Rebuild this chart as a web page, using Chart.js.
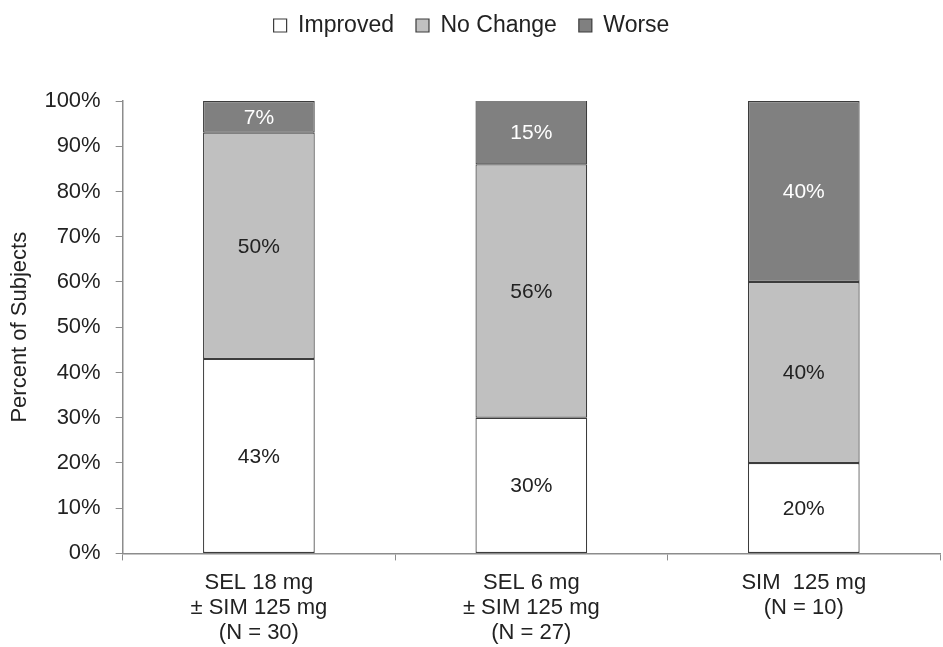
<!DOCTYPE html>
<html>
<head>
<meta charset="utf-8">
<script src="https://cdn.jsdelivr.net/npm/chart.js@4"></script>
<style>
    body { margin: 0; background: #fff; }
    #wrap { width: 943px; height: 647px; }
</style>
</head>
<body>
<div id="wrap"><canvas id="chart"></canvas></div>
<script>
    const categories = [
        ["SEL 18 mg", "± SIM 125 mg", "(N = 30)"],
        ["SEL 6 mg", "± SIM 125 mg", "(N = 27)"],
        ["SIM  125 mg", "(N = 10)"]
    ];
    const improved = [43, 30, 20];
    const noChange = [50, 56, 40];
    const worse = [7, 15, 40];
    const seriesLabels = ["Improved", "No Change", "Worse"];

    const fontFamily = "'Liberation Sans', Arial, sans-serif";
    const textColor = "#222";
    const axisColor = "#8c8c8c";

    /** 막대 안쪽 값 표시 **/
    const barValueLabels = {
        id: 'barValueLabels',
        afterDatasetsDraw(chart) {
            const {ctx, chartArea} = chart;
            ctx.save();
            ctx.font = `21px ${fontFamily}`;
            ctx.textAlign = 'center';
            ctx.textBaseline = 'middle';
            chart.data.datasets.forEach((ds, i) => {
                const meta = chart.getDatasetMeta(i);
                meta.data.forEach((bar, j) => {
                    const top = Math.max(Math.min(bar.y, bar.base), chartArea.top);
                    const bottom = Math.min(Math.max(bar.y, bar.base), chartArea.bottom);
                    ctx.fillStyle = ds.labelColor;
                    ctx.fillText(ds.data[j] + '%', bar.x, (top + bottom) / 2 + 1);
                });
            });
            ctx.restore();
        }
    };

    /** 범례 아래 여백 **/
    const legendSpacer = {
        id: 'legendSpacer',
        beforeInit(chart) {
            const fit = chart.legend.fit;
            chart.legend.fit = function () {
                fit.bind(chart.legend)();
                this.height += 54;
            };
        }
    };

    function makeDataset(label, data, color, labelColor)
    {
        return {
            label: label,
            data: data,
            backgroundColor: color,
            borderColor: '#3c3c3c',
            borderWidth: 1.2,
            borderSkipped: false,
            categoryPercentage: 1,
            barPercentage: 0.41,
            labelColor: labelColor
        };
    }

    new Chart(document.getElementById('chart'), {
        type: 'bar',
        data: {
            labels: categories,
            datasets: [
                makeDataset(seriesLabels[0], improved, '#ffffff', textColor),
                makeDataset(seriesLabels[1], noChange, '#c0c0c0', textColor),
                makeDataset(seriesLabels[2], worse, '#808080', '#ffffff')
            ]
        },
        options: {
            responsive: true,
            maintainAspectRatio: false,
            animation: false,
            layout: { padding: { top: -8, right: 3, left: 3, bottom: -8 } },
            plugins: {
                legend: {
                    position: 'top',
                    labels: {
                        font: { family: fontFamily, size: 23 },
                        color: textColor,
                        boxWidth: 13,
                        boxHeight: 13,
                        padding: 22
                    }
                },
                tooltip: { enabled: false }
            },
            scales: {
                x: {
                    stacked: true,
                    grid: { offset: true, drawOnChartArea: false, tickLength: 7, color: axisColor },
                    border: { color: axisColor, width: 1.5 },
                    ticks: {
                        font: { family: fontFamily, size: 22, lineHeight: 1.13 },
                        color: textColor,
                        padding: 10,
                        maxRotation: 0
                    }
                },
                y: {
                    stacked: true,
                    min: 0,
                    max: 100,
                    grid: { drawOnChartArea: false, tickLength: 7, color: axisColor },
                    border: { color: axisColor, width: 1.5 },
                    ticks: {
                        stepSize: 10,
                        font: { family: fontFamily, size: 22 },
                        color: textColor,
                        padding: 15,
                        callback: (v) => v + '%'
                    },
                    title: {
                        display: true,
                        text: 'Percent of Subjects',
                        font: { family: fontFamily, size: 22 },
                        color: textColor,
                        padding: { top: 4, bottom: -4 }
                    }
                }
            }
        },
        plugins: [barValueLabels, legendSpacer]
    });
</script>
</body>
</html>
